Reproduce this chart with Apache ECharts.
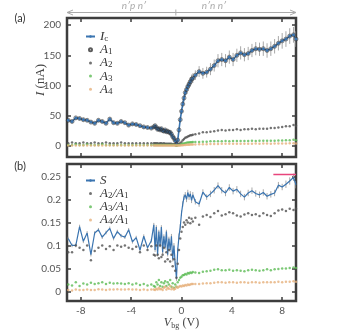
<!DOCTYPE html>
<html>
<head>
<meta charset="utf-8">
<script src="https://cdn.jsdelivr.net/npm/echarts@6/dist/echarts.min.js"></script>
<style>
  html, body { margin: 0; padding: 0; background: #fff; }
  #main { width: 339px; height: 331px; }
</style>
</head>
<body>
<div id="main"></div>
<script>
// gate voltage (V)
var vbg = [
  -9.0, -8.7, -8.4, -8.1, -7.8, -7.5, -7.2, -6.9, -6.6, -6.3, -6.0, -5.7, -5.4, -5.1, -4.8, -4.5, -4.2, -3.9, -3.6, -3.3, -3.0, -2.7, -2.4,
  -2.2, -2.1, -2.0, -1.9, -1.8, -1.7, -1.6, -1.5, -1.4, -1.3, -1.2, -1.1, -1.0, -0.9, -0.8, -0.7, -0.6, -0.5, -0.4, -0.3, -0.2, -0.1, 0.0, 0.1, 0.2, 0.3, 0.4, 0.5, 0.6, 0.7, 0.8, 0.9,
  1.1, 1.4, 1.7, 2.0, 2.3, 2.6, 2.9, 3.2, 3.5, 3.8, 4.1, 4.4, 4.7, 5.0, 5.3, 5.6, 5.9, 6.2, 6.5, 6.8, 7.1, 7.4, 7.7, 8.0, 8.3, 8.6, 8.9, 9.1
];

// panel (a), nA
var ic = [
  42, 40, 46, 45, 43, 42, 39, 37, 42, 40, 37, 44, 38, 37, 40, 38, 34, 36, 35, 33, 31, 30, 29,
  31, 33, 30, 27, 28, 26, 28, 25, 24, 26, 23, 24, 22, 22, 19, 15, 12, 8, 2, 9, 26, 43, 57, 69, 79, 88, 93, 98, 102, 106, 110, 112,
  117, 123, 120, 122, 127, 133, 141, 143, 141, 147, 143, 150, 154, 151, 153, 158, 161, 160, 161, 158, 161, 165, 170, 174, 177, 182, 184, 177
];
var icErr = [
  3, 3, 3, 3, 3, 3, 3, 3, 3, 3, 3, 3, 3, 3, 3, 3, 3, 3, 3, 3, 3, 3, 3,
  3, 3, 3, 3, 3, 3, 3, 3, 3, 3, 3, 3, 3, 3, 3, 3, 3, 2, 2, 3, 4, 5, 5, 6, 6, 7, 7, 7, 7, 8, 8, 8,
  8, 9, 9, 9, 10, 10, 11, 11, 11, 11, 11, 11, 11, 11, 11, 11, 11, 11, 12, 12, 12, 12, 12, 13, 13, 13, 13, 13
];
var a1 = ic.slice();
var a2 = [
  4, 5, 4, 4, 5, 4, 4, 5, 4, 4, 5, 4, 4, 4, 5, 4, 4, 4, 4, 4, 4, 4, 4,
  4, 4, 4, 4, 3, 4, 4, 3, 4, 3, 3, 3, 3, 3, 3, 2, 2, 2, 1, 2, 3, 4, 6, 9, 11, 13, 14, 15, 16, 17, 17, 18,
  19, 20, 22, 22, 23, 24, 25, 26, 25, 26, 26, 27, 26, 27, 27, 28, 27, 28, 28, 28, 29, 29, 30, 31, 32, 32, 34, 33
];
var a3 = [
  1, 1, 2, 1, 1, 2, 1, 1, 1, 2, 1, 1, 1, 1, 1, 1, 1, 1, 1, 1, 1, 1, 1,
  1, 1, 1, 1, 1, 1, 1, 1, 1, 1, 1, 1, 1, 1, 1, 1, 1, 0.5, 0.3, 0.5, 1, 1.5, 2, 3, 3.5, 4, 4.5, 5, 5, 5.5, 5.5, 6,
  6, 6, 6.5, 6.5, 7, 7, 7, 7, 7.5, 7, 7.5, 7.5, 7.5, 7.5, 7.5, 8, 7.5, 8, 8, 8, 8, 8, 8.5, 8.5, 9, 9, 9.5, 9
];
var a4 = [
  0.2, 0.1, 0.2, 0.2, 0.1, 0.2, 0.2, 0.1, 0.2, 0.2, 0.1, 0.2, 0.2, 0.2, 0.1, 0.2, 0.2, 0.2, 0.1, 0.2, 0.2, 0.2, 0.2,
  0.2, 0.2, 0.2, 0.2, 0.2, 0.2, 0.2, 0.2, 0.2, 0.2, 0.2, 0.2, 0.2, 0.2, 0.2, 0.2, 0.1, 0.1, 0.1, 0.1, 0.2, 0.3, 0.5, 0.7, 0.9, 1.1, 1.2, 1.4, 1.5, 1.6, 1.7, 1.8,
  1.9, 2.0, 2.2, 2.3, 2.5, 2.6, 2.8, 2.9, 2.9, 3.0, 3.0, 3.1, 3.1, 3.1, 3.2, 3.2, 3.3, 3.2, 3.3, 3.3, 3.2, 3.4, 3.5, 3.5, 3.6, 3.7, 3.8, 3.6
];

// panel (b)
var sVal = [
  0.115, 0.100, 0.100, 0.141, 0.109, 0.127, 0.080, 0.127, 0.134, 0.118, 0.128, 0.137, 0.115, 0.130, 0.121, 0.118, 0.134, 0.108, 0.117, 0.090, 0.120, 0.095, 0.110,
  0.145, 0.090, 0.140, 0.080, 0.130, 0.100, 0.140, 0.085, 0.120, 0.095, 0.130, 0.080, 0.115, 0.090, 0.120, 0.070, 0.100, 0.060, 0.028, 0.090, 0.120, 0.140, 0.170, 0.190, 0.205, 0.210, 0.200, 0.215, 0.205, 0.212, 0.198, 0.210,
  0.195, 0.190, 0.216, 0.205, 0.212, 0.220, 0.230, 0.220, 0.214, 0.226, 0.218, 0.222, 0.212, 0.205, 0.214, 0.219, 0.213, 0.210, 0.215, 0.207, 0.211, 0.214, 0.231, 0.227, 0.233, 0.240, 0.248, 0.232
];
var sErr = [
  0.004, 0.004, 0.004, 0.004, 0.004, 0.004, 0.004, 0.004, 0.004, 0.004, 0.004, 0.004, 0.004, 0.004, 0.004, 0.004, 0.004, 0.004, 0.004, 0.004, 0.004, 0.004, 0.004,
  0.004, 0.004, 0.004, 0.004, 0.004, 0.004, 0.004, 0.004, 0.004, 0.004, 0.004, 0.004, 0.004, 0.004, 0.005, 0.005, 0.005, 0.005, 0.005, 0.005, 0.006, 0.006, 0.006, 0.006, 0.006, 0.006, 0.006, 0.006, 0.006, 0.006, 0.006, 0.006,
  0.006, 0.006, 0.006, 0.006, 0.007, 0.007, 0.007, 0.007, 0.007, 0.007, 0.007, 0.007, 0.007, 0.007, 0.007, 0.007, 0.007, 0.007, 0.007, 0.007, 0.007, 0.007, 0.007, 0.007, 0.008, 0.008, 0.008, 0.008
];
var r21 = [
  0.085, 0.085, 0.100, 0.095, 0.090, 0.100, 0.068, 0.088, 0.095, 0.100, 0.092, 0.098, 0.090, 0.100, 0.097, 0.100, 0.095, 0.092, 0.097, 0.085, 0.100, 0.090, 0.098,
  0.080, 0.078, 0.100, 0.080, 0.072, 0.100, 0.075, 0.080, 0.095, 0.065, 0.085, 0.070, 0.090, 0.065, 0.080, 0.055, 0.070, 0.045, 0.030, 0.060, 0.090, 0.115, 0.130, 0.140, 0.150, 0.145, 0.155, 0.150, 0.160, 0.148, 0.158, 0.152,
  0.160, 0.145, 0.163, 0.166, 0.162, 0.170, 0.175, 0.165, 0.168, 0.172, 0.170, 0.165, 0.163, 0.167, 0.170, 0.166, 0.168, 0.164, 0.170, 0.166, 0.164, 0.170, 0.176, 0.178, 0.175, 0.180, 0.177, 0.180
];
var r31 = [
  0.015, 0.013, 0.020, 0.012, 0.017, 0.015, 0.019, 0.016, 0.018, 0.020, 0.016, 0.019, 0.017, 0.018, 0.017, 0.016, 0.018, 0.015, 0.017, 0.014, 0.016, 0.013, 0.015,
  0.012, 0.010, 0.020, 0.015, 0.025, 0.012, 0.020, 0.010, 0.018, 0.022, 0.012, 0.020, 0.015, 0.025, 0.010, 0.018, 0.008, 0.015, 0.010, 0.020, 0.025, 0.030, 0.032, 0.035, 0.036, 0.038, 0.037, 0.040, 0.039, 0.041, 0.040, 0.042,
  0.041, 0.040, 0.043, 0.044, 0.045, 0.047, 0.048, 0.046, 0.046, 0.047, 0.045, 0.046, 0.045, 0.044, 0.046, 0.047, 0.046, 0.045, 0.046, 0.048, 0.046, 0.048, 0.049, 0.050, 0.050, 0.051, 0.052, 0.051
];
var r41 = [
  0.003, 0.002, 0.004, 0.003, 0.003, 0.004, 0.003, 0.003, 0.005, 0.004, 0.003, 0.004, 0.004, 0.005, 0.004, 0.004, 0.005, 0.004, 0.004, 0.003, 0.004, 0.003, 0.004,
  0.004, 0.003, 0.006, 0.004, 0.008, 0.005, 0.006, 0.003, 0.008, 0.010, 0.004, 0.008, 0.006, 0.012, 0.005, 0.008, 0.004, 0.006, 0.010, 0.008, 0.010, 0.012, 0.011, 0.013, 0.012, 0.014, 0.013, 0.015, 0.014, 0.015, 0.016, 0.016,
  0.016, 0.016, 0.017, 0.018, 0.018, 0.019, 0.020, 0.020, 0.019, 0.020, 0.020, 0.019, 0.020, 0.020, 0.019, 0.020, 0.020, 0.019, 0.020, 0.020, 0.020, 0.020, 0.021, 0.020, 0.021, 0.021, 0.022, 0.021
];
var sLimitV = [7.3, 9.1];
var sLimit = 0.254;

var xTicks = [-8, -4, 0, 4, 8];
var yTicksA = [0, 50, 100, 150, 200];
var yTicksB = [0, 0.05, 0.1, 0.15, 0.2, 0.25];
var splitV = -0.45;
var regionNames = ['n\u2032p n\u2032', 'n\u2032n n\u2032'];

var frameColor = '#3d3d3d';
var blue = '#3a74b0';
var dark = '#505050';
var green = '#5dbb55';
var orange = '#e6b07c';

var serif = "'Liberation Serif', 'DejaVu Serif', serif";
var richText = {
  i: { fontFamily: serif, fontStyle: 'italic', fontSize: 13, color: '#333', lineHeight: 13.4 },
  u: { fontFamily: serif, fontSize: 13, color: '#333', lineHeight: 13.4 },
  s: { fontFamily: serif, fontSize: 9, color: '#333', lineHeight: 7, verticalAlign: 'bottom' }
};
var legendNames = {
  'Ic': '{i|I}{s|c}',
  'A1': '{i|A}{s|1}',
  'A2': '{i|A}{s|2}',
  'A3': '{i|A}{s|3}',
  'A4': '{i|A}{s|4}',
  'S': '{i|S}',
  'A2/A1': '{i|A}{s|2}{i|/A}{s|1}',
  'A3/A1': '{i|A}{s|3}{i|/A}{s|1}',
  'A4/A1': '{i|A}{s|4}{i|/A}{s|1}'
};

function pairs(ys) {
  return vbg.map(function (v, i) { return [v, ys[i]]; });
}
function bars(ys, es) {
  return vbg.map(function (v, i) { return [v, ys[i] - es[i], ys[i] + es[i]]; });
}
function renderBar(params, api) {
  var a = api.coord([api.value(0), api.value(1)]);
  var b = api.coord([api.value(0), api.value(2)]);
  return {
    type: 'line',
    shape: { x1: a[0], y1: a[1], x2: b[0], y2: b[1] },
    style: { stroke: '#a8a8a8', lineWidth: 1 }
  };
}

var tickStyle = { inside: true, length: 4, lineStyle: { color: frameColor, width: 1.5 } };
var labelStyle = { color: '#555', fontSize: 10, fontFamily: 'Lato, sans-serif' };

function xAxisFor(g, pos, withLabels) {
  return {
    type: 'value', gridIndex: g, position: pos, min: -9.1, max: 9.1,
    axisLine: { show: false, onZero: false },
    splitLine: { show: false },
    axisTick: Object.assign({ customValues: xTicks }, tickStyle),
    axisLabel: Object.assign({ show: withLabels, customValues: xTicks, margin: 5 }, labelStyle)
  };
}
function yAxisFor(g, pos, min, max, ticks, withLabels) {
  return {
    type: 'value', gridIndex: g, position: pos, min: min, max: max,
    axisLine: { show: false, onZero: false },
    splitLine: { show: false },
    axisTick: Object.assign({ customValues: ticks }, tickStyle),
    axisLabel: Object.assign({ show: withLabels, customValues: ticks, margin: 6 }, labelStyle)
  };
}

var myChart = echarts.init(document.getElementById('main'));
var xB = xAxisFor(1, 'bottom', true);
xB.name = '{i|V}{sm|bg} {u|(V)}';
xB.nameLocation = 'middle';
xB.nameGap = 14;
xB.nameTextStyle = {
  rich: {
    i: { fontFamily: serif, fontStyle: 'italic', fontSize: 12, color: '#444', lineHeight: 14 },
    u: { fontFamily: serif, fontSize: 12, color: '#444', lineHeight: 14 },
    sm: { fontFamily: serif, fontSize: 8, color: '#444', lineHeight: 7, verticalAlign: 'bottom' }
  }
};

var legendCommon = {
  orient: 'vertical', left: 80, itemGap: 0, itemWidth: 9, itemHeight: 3,
  formatter: function (n) { return legendNames[n]; },
  textStyle: { rich: richText }
};

var option = {
  animation: false,
  grid: [
    { left: 67, right: 43, top: 18, height: 139, show: true, borderColor: frameColor, borderWidth: 2.5 },
    { left: 67, right: 43, top: 164, height: 140, show: true, borderColor: frameColor, borderWidth: 2.5 }
  ],
  xAxis: [
    xAxisFor(0, 'bottom', false),
    xAxisFor(0, 'top', false),
    xB,
    xAxisFor(1, 'top', false)
  ],
  yAxis: [
    yAxisFor(0, 'left', -19, 212, yTicksA, true),
    yAxisFor(0, 'right', -19, 212, yTicksA, false),
    yAxisFor(1, 'left', -0.021, 0.277, yTicksB, true),
    yAxisFor(1, 'right', -0.021, 0.277, yTicksB, false)
  ],
  legend: [
    Object.assign({ data: ['Ic', 'A1', 'A2', 'A3', 'A4'], top: 25 }, legendCommon),
    Object.assign({ data: ['S', 'A2/A1', 'A3/A1', 'A4/A1'], top: 169 }, legendCommon)
  ],
  series: [
    {
      name: 'IcErr', type: 'custom', xAxisIndex: 0, yAxisIndex: 0, clip: true, silent: true,
      data: bars(ic, icErr), encode: { x: 0, y: [1, 2] }, renderItem: renderBar, z: 1
    },
    {
      name: 'Ic', type: 'line', xAxisIndex: 0, yAxisIndex: 0, data: pairs(ic),
      symbol: 'circle', symbolSize: 3, showSymbol: true,
      lineStyle: { color: blue, width: 1.6 }, itemStyle: { color: blue }, z: 2
    },
    {
      name: 'A1', type: 'scatter', xAxisIndex: 0, yAxisIndex: 0, data: pairs(a1),
      symbol: 'circle', symbolSize: 4,
      itemStyle: { color: 'rgba(0,0,0,0)', borderColor: '#333', borderWidth: 0.7 }, z: 3
    },
    {
      name: 'A2', type: 'scatter', xAxisIndex: 0, yAxisIndex: 0, data: pairs(a2),
      symbolSize: 2.5, itemStyle: { color: dark }, z: 3
    },
    {
      name: 'A3', type: 'scatter', xAxisIndex: 0, yAxisIndex: 0, data: pairs(a3),
      symbolSize: 2.5, itemStyle: { color: green }, z: 3
    },
    {
      name: 'A4', type: 'scatter', xAxisIndex: 0, yAxisIndex: 0, data: pairs(a4),
      symbolSize: 2.5, itemStyle: { color: orange }, z: 3
    },
    {
      name: 'SErr', type: 'custom', xAxisIndex: 2, yAxisIndex: 2, clip: true, silent: true,
      data: bars(sVal, sErr), encode: { x: 0, y: [1, 2] }, renderItem: renderBar, z: 1
    },
    {
      name: 'S', type: 'line', xAxisIndex: 2, yAxisIndex: 2, data: pairs(sVal),
      symbol: 'none', lineStyle: { color: blue, width: 1.2 }, itemStyle: { color: blue }, z: 2
    },
    {
      name: 'A2/A1', type: 'scatter', xAxisIndex: 2, yAxisIndex: 2, data: pairs(r21),
      symbolSize: 2.5, itemStyle: { color: dark }, z: 3
    },
    {
      name: 'A3/A1', type: 'scatter', xAxisIndex: 2, yAxisIndex: 2, data: pairs(r31),
      symbolSize: 2.5, itemStyle: { color: green }, z: 3
    },
    {
      name: 'A4/A1', type: 'scatter', xAxisIndex: 2, yAxisIndex: 2, data: pairs(r41),
      symbolSize: 2.5, itemStyle: { color: orange }, z: 3
    },
    {
      name: 'limit', type: 'line', xAxisIndex: 2, yAxisIndex: 2,
      data: sLimitV.map(function (v) { return [v, sLimit]; }),
      symbol: 'none', lineStyle: { color: '#e8457c', width: 1.5 }, z: 4
    }
  ]
};
myChart.setOption(option);

// region arrows above panel (a)
var xl = myChart.convertToPixel({ seriesIndex: 1 }, [-9.1, 0])[0];
var xs = myChart.convertToPixel({ seriesIndex: 1 }, [splitV, 0])[0];
var xr = myChart.convertToPixel({ seriesIndex: 1 }, [9.1, 0])[0];
var ay = 12.5;
var grey = '#aaaaaa';
var arrowStyle = { stroke: grey, lineWidth: 1, fill: null };
myChart.setOption({
  graphic: [
    { type: 'line', shape: { x1: xl, y1: ay, x2: xr, y2: ay }, style: arrowStyle, silent: true },
    { type: 'line', shape: { x1: xs, y1: ay - 3, x2: xs, y2: ay + 3 }, style: arrowStyle, silent: true },
    { type: 'polyline', shape: { points: [[xl + 6, ay - 2.5], [xl, ay], [xl + 6, ay + 2.5]] }, style: arrowStyle, silent: true },
    { type: 'polyline', shape: { points: [[xr - 6, ay - 2.5], [xr, ay], [xr - 6, ay + 2.5]] }, style: arrowStyle, silent: true },
    { type: 'text', x: xs - 42, y: 6, style: { text: regionNames[0], fill: grey, fontSize: 10, fontStyle: 'italic', fontFamily: 'Lato, sans-serif', align: 'center', verticalAlign: 'middle' }, silent: true },
    { type: 'text', x: xs + 38, y: 6, style: { text: regionNames[1], fill: grey, fontSize: 10, fontStyle: 'italic', fontFamily: 'Lato, sans-serif', align: 'center', verticalAlign: 'middle' }, silent: true },
    { type: 'text', x: 20, y: 18, style: { text: '(a)', fill: '#333', fontSize: 11, fontFamily: 'Lato, sans-serif', align: 'center', verticalAlign: 'middle' }, silent: true },
    { type: 'text', x: 20, y: 166, style: { text: '(b)', fill: '#333', fontSize: 11, fontFamily: 'Lato, sans-serif', align: 'center', verticalAlign: 'middle' }, silent: true },
    {
      type: 'text', x: 41, y: 80, rotation: Math.PI / 2, silent: true,
      style: {
        text: '{i|I} {u|(nA)}', align: 'center', verticalAlign: 'middle',
        rich: {
          i: { fontFamily: serif, fontStyle: 'italic', fontSize: 13, fill: '#444' },
          u: { fontFamily: serif, fontSize: 13, fill: '#444' }
        }
      }
    }
  ]
});
</script>
</body>
</html>
